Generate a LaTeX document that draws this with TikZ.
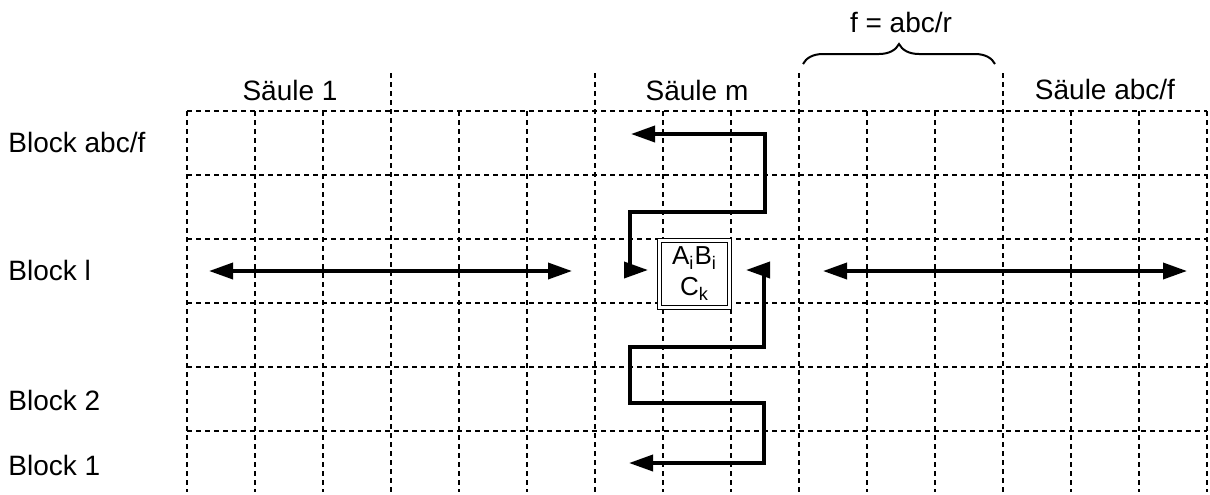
\documentclass[tikz,border=0pt]{standalone}
\usepackage{fontspec}
\setmainfont{Liberation Sans}
\usetikzlibrary{arrows.meta,decorations.pathreplacing}

\tikzset{
  gridline/.style={line width=0.7pt, dash pattern=on 2.5pt off 2pt},
  flow/.style={line width=1.8pt, {Triangle[length=12pt,width=8pt]}-{Triangle[length=12pt,width=8pt]}},
  lbl/.style={font=\fontsize{14pt}{16pt}\selectfont, inner sep=0pt},
  cellbox/.style={draw, double, line width=0.8pt, double distance=1.2pt, fill=white,
    minimum width=35pt, minimum height=33.5pt, inner sep=0pt, align=center,
    font=\fontsize{13pt}{15.5pt}\selectfont}
}

\begin{document}
\begin{tikzpicture}[x=0.5pt, y=-0.5pt]
  \useasboundingbox (0,0) rectangle (1210,494);

  % horizontal grid lines
  \foreach \j in {0,...,5}
    \draw[gridline] (187,111+64*\j) -- (1207,111+64*\j);
  % vertical grid lines; column borders reach up past the top row
  \foreach \i in {0,...,15} {
    \pgfmathtruncatemacro{\xx}{187+68*\i}
    \ifnum\i=3 \draw[gridline] (\xx,73) -- (\xx,492);
    \else\ifnum\i=6 \draw[gridline] (\xx,73) -- (\xx,492);
    \else\ifnum\i=9 \draw[gridline] (\xx,73) -- (\xx,492);
    \else\ifnum\i=12 \draw[gridline] (\xx,73) -- (\xx,492);
    \else \draw[gridline] (\xx,111) -- (\xx,492);
    \fi\fi\fi\fi
  }

  % column labels
  \node[lbl, anchor=base] (s1) at (290,100) {Säule 1};
  \node[lbl, anchor=base] (sm) at (697,100) {Säule m};
  \node[lbl, anchor=base] (sf) at (1105,99) {Säule abc/f};
  \node[lbl, anchor=base] (fr) at (901,32) {f = abc/r};
  \coordinate (brl) at (803,64);
  \coordinate (brr) at (995,64);
  \draw[line width=1pt, decorate, decoration={brace, amplitude=10pt}] (brl) -- (brr);

  % row labels
  \node[lbl, anchor=base west] (bf) at (8,152) {Block abc/f};
  \node[lbl, anchor=base west] (bl) at (8,280) {Block l};
  \node[lbl, anchor=base west] (b2) at (8,410) {Block 2};
  \node[lbl, anchor=base west] (b1) at (8,475) {Block 1};

  % the current cell
  \node[cellbox] (cell) at (694.5,274) {A\textsubscript{i}B\textsubscript{i}\\C\textsubscript{k}};

  % horizontal traversal within block l
  \coordinate (la) at (209,271);
  \coordinate (lb) at (572,271);
  \coordinate (ra) at (823,271);
  \coordinate (rb) at (1187,271);
  \draw[flow] (la) -- (lb);
  \draw[flow] (ra) -- (rb);

  % vertical traversal within column m
  \coordinate (ua) at (631,134);
  \coordinate (ub) at (648,270);
  \coordinate (da) at (746,270);
  \coordinate (db) at (629,463);
  \draw[flow] (ua) -- (765,134) -- (765,212) -- (630,212) -- (630,270) -- (ub);
  \draw[flow] (da) -- (764,270) -- (764,347) -- (630,347) -- (630,403)
    -- (764,403) -- (764,463) -- (db);
\end{tikzpicture}
\end{document}
